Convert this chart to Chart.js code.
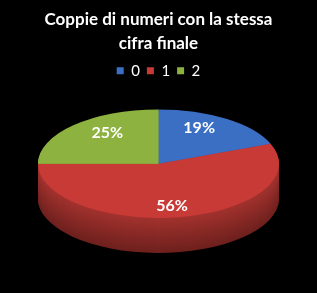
<!DOCTYPE html>
<html>
<head>
<meta charset="utf-8">
<script src="https://cdn.jsdelivr.net/npm/chart.js@4.4.0/dist/chart.umd.min.js"></script>
<style>
  html, body { margin: 0; padding: 0; background: #000; }
  #wrap { width: 317px; height: 293px; }
</style>
</head>
<body>
<div id="wrap"><canvas id="pie"></canvas></div>
<script>
// dati
const categories = ['0', '1', '2'];
const shares = [19, 56, 25];
const titleLines = ['Coppie di numeri con la stessa', 'cifra finale'];

const sliceColors = ['#3b6fc4', '#c83a36', '#8db23f'];
const sideTop = ['#2e5aa0', '#a3322e', '#6f8f30'];
const sideBottom = ['#1f3f72', '#6e211e', '#4d6420'];

// finto 3D: schiaccio la torta e disegno lo spessore sotto
const stretchX = 1.6;
const squashY = 0.72;
const depth = 35;

function mix(a, b, t) {
  const pa = parseInt(a.slice(1), 16), pb = parseInt(b.slice(1), 16);
  const r = Math.round(((pa >> 16) & 255) * (1 - t) + ((pb >> 16) & 255) * t);
  const g = Math.round(((pa >> 8) & 255) * (1 - t) + ((pb >> 8) & 255) * t);
  const bl = Math.round((pa & 255) * (1 - t) + (pb & 255) * t);
  return `rgb(${r},${g},${bl})`;
}

const tiltPlugin = {
  id: 'tilt',
  beforeDatasetsDraw(chart) {
    const ctx = chart.ctx;
    const arcs = chart.getDatasetMeta(0).data;
    const cx = arcs[0].x, cy = arcs[0].y;
    ctx.save();
    ctx.translate(cx, cy);
    ctx.scale(stretchX, squashY);
    ctx.translate(-cx, -cy);
    // spessore
    for (let d = depth; d >= 1; d--) {
      const off = d / squashY;
      const t = d / depth;
      arcs.forEach((arc, i) => {
        ctx.beginPath();
        ctx.moveTo(arc.x, arc.y + off);
        ctx.arc(arc.x, arc.y + off, arc.outerRadius, arc.startAngle, arc.endAngle);
        ctx.closePath();
        ctx.fillStyle = mix(sideTop[i], sideBottom[i], t);
        ctx.fill();
      });
    }
  },
  afterDatasetsDraw(chart) {
    const ctx = chart.ctx;
    ctx.restore();
    const arcs = chart.getDatasetMeta(0).data;
    ctx.save();
    ctx.fillStyle = '#ffffff';
    ctx.font = 'bold 16px Lato';
    ctx.textAlign = 'center';
    ctx.textBaseline = 'middle';
    arcs.forEach((arc, i) => {
      const mid = (arc.startAngle + arc.endAngle) / 2;
      const x = arc.x + Math.cos(mid) * arc.outerRadius * 0.6 * stretchX;
      const y = arc.y + Math.sin(mid) * arc.outerRadius * 0.8 * squashY;
      ctx.fillText(shares[i] + '%', x, y);
    });
    ctx.restore();
  }
};

const pieChart = new Chart(document.getElementById('pie').getContext('2d'), {
  type: 'pie',
  data: {
    labels: categories,
    datasets: [
      {
        data: shares,
        backgroundColor: sliceColors,
        borderWidth: 0,
        clip: false,
      },
    ],
  },
  options: {
    responsive: true,
    maintainAspectRatio: false,
    animation: false,
    events: [],
    layout: { padding: { bottom: 54 } },
    plugins: {
      title: {
        display: true,
        text: titleLines,
        color: '#ffffff',
        font: { family: 'Lato', size: 17, weight: 'bold', lineHeight: 1.42 },
        padding: { top: 7, bottom: 1 },
      },
      legend: {
        display: true,
        position: 'top',
        labels: {
          color: '#ffffff',
          font: { family: 'Lato', size: 15 },
          boxWidth: 7,
          boxHeight: 7,
          padding: 7,
        },
      },
      tooltip: { enabled: false },
    },
  },
  plugins: [tiltPlugin],
});
</script>
</body>
</html>
